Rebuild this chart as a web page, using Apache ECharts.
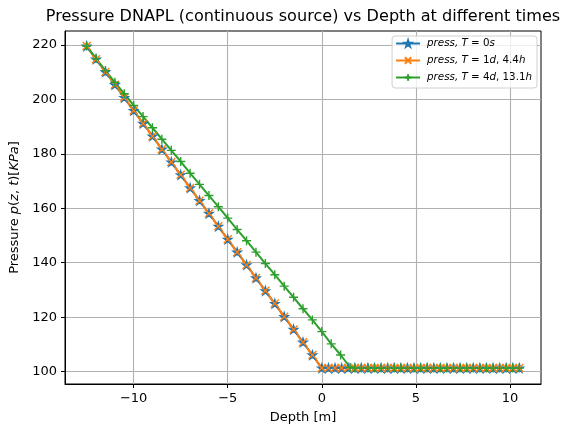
<!DOCTYPE html>
<html><head><meta charset="utf-8">
<script src="https://cdn.jsdelivr.net/npm/echarts@6/dist/echarts.min.js"></script>
<style>html,body{margin:0;padding:0;background:#fff}#c{width:562px;height:427px}</style>
</head><body><div id="c"></div>
<script>
// ---- data ----
const depth0 = [-12.5,-12,-11.5,-11,-10.5,-10,-9.5,-9,-8.5,-8,-7.5,-7,-6.5,-6,-5.5,-5,-4.5,-4,-3.5,-3,-2.5,-2,-1.5,-1,-0.5,0,
  0.35,0.7,1.05,1.4,1.75,2.1,2.45,2.8,3.15,3.5,3.85,4.2,4.55,4.9,5.25,5.6,5.95,6.3,6.65,7.0,7.35,7.7,8.05,8.4,8.75,9.1,9.45,9.8,10.15,10.5];
const pressT0 = [219.6,214.8,210.1,205.4,200.7,195.9,191.2,186.5,181.7,177.0,172.3,167.5,162.8,158.1,153.4,148.6,143.9,139.2,134.4,129.7,125.0,120.2,115.5,110.8,106.1,101.3,
  101.3,101.3,101.3,101.3,101.3,101.3,101.3,101.3,101.3,101.3,101.3,101.3,101.3,101.3,101.3,101.3,101.3,101.3,101.3,101.3,101.3,101.3,101.3,101.3,101.3,101.3,101.3,101.3,101.3,101.3];
const pressT1 = [219.6,214.8,210.1,205.4,200.7,195.9,191.2,186.5,181.7,177.0,172.3,167.5,162.8,158.1,153.4,148.6,143.9,139.2,134.4,129.7,125.0,120.2,115.5,110.8,106.1,101.3,
  101.3,101.3,101.3,101.3,101.3,101.3,101.3,101.3,101.3,101.3,101.3,101.3,101.3,101.3,101.3,101.3,101.3,101.3,101.3,101.3,101.3,101.3,101.3,101.3,101.3,101.3,101.3,101.3,101.3,101.3];
const depth4 = [-12.5,-12,-11.5,-11,-10.5,-10,-9.5,-9,-8.5,-8,-7.5,-7,-6.5,-6,-5.5,-5,-4.5,-4,-3.5,-3,-2.5,-2,-1.5,-1,-0.5,0,0.5,1,1.5,
  1.75,2.1,2.45,2.8,3.15,3.5,3.85,4.2,4.55,4.9,5.25,5.6,5.95,6.3,6.65,7.0,7.35,7.7,8.05,8.4,8.75,9.1,9.45,9.8,10.15,10.5];
const pressT4 = [219.6,215.0,210.6,206.3,202.1,197.8,193.7,189.6,185.4,181.3,177.2,172.9,168.8,164.7,160.6,156.4,152.2,148.1,143.9,139.7,135.6,131.4,127.3,123.1,119.0,114.7,110.2,106.1,101.6,
  101.3,101.3,101.3,101.3,101.3,101.3,101.3,101.3,101.3,101.3,101.3,101.3,101.3,101.3,101.3,101.3,101.3,101.3,101.3,101.3,101.3,101.3,101.3,101.3,101.3,101.3];
const xTicks = [-10,-5,0,5,10];
const yTicks = [100,120,140,160,180,200,220];
const seriesNames = ['T0','T1','T4'];

const zip = (xs, ys) => xs.map((x, i) => [x, ys[i]]);
const FONT = 'DejaVu Sans';
const FS = 13;
const starPath = 'path://M50,0L61.8,35.4L99,35.4L69,57.3L80.4,92.7L50,70.8L19.6,92.7L31,57.3L1,35.4L38.2,35.4Z';
const xPath = 'path://M0,0L10,10M10,0L0,10';
const plusPath = 'path://M5,0L5,10M0,5L10,5';
const minus = v => String(v).replace('-', '\u2212');

const legendText = {
  T0: '{i|press,} {i|T} {n|=} {n|0}{i|s}',
  T1: '{i|press,} {i|T} {n|=} {n|1}{i|d}{n|,} {n|4.4}{i|h}',
  T4: '{i|press,} {i|T} {n|=} {n|4}{i|d}{n|,} {n|13.1}{i|h}'
};

function mkSeries(name, data, color, symbol, size) {
  return {
    name, type: 'line', data, symbol, symbolSize: size,
    showSymbol: true, showAllSymbol: true,
    lineStyle: { color, width: 2 },
    itemStyle: { color, borderColor: color, borderWidth: 1.4 },
    emphasis: { disabled: true }
  };
}

const chart = echarts.init(document.getElementById('c'), null, { renderer: 'canvas' });
chart.setOption({
  animation: false,
  backgroundColor: '#fff',
  textStyle: { fontFamily: FONT },
  grid: { left: 65, right: 21, top: 31, bottom: 43, outerBoundsMode: 'none', containLabel: false,
    show: true, borderColor: '#000', borderWidth: 1, backgroundColor: 'transparent' },
  graphic: [{
    type: 'text', x: 303, y: 17,
    style: { text: 'Pressure DNAPL (continuous source) vs Depth at different times', font: '16.1px "DejaVu Sans"', fill: '#000', textAlign: 'center', textVerticalAlign: 'middle' }
  }],
  legend: {
    orient: 'vertical', right: 25, top: 36,
    data: seriesNames,
    selectedMode: false,
    itemWidth: 24, itemHeight: 8, itemGap: 2,
    padding: [0, 5, 3, 3],
    borderColor: '#d0d0d0', borderWidth: 1, borderRadius: 3,
    backgroundColor: 'rgba(255,255,255,0.8)',
    formatter: n => legendText[n],
    textStyle: {
      fontFamily: FONT, fontSize: 10.3, color: '#000', lineHeight: 15, padding: [0, 0, 0, 2],
      rich: {
        i: { fontFamily: FONT, fontStyle: 'italic', fontSize: 10.3, color: '#000', lineHeight: 15 },
        n: { fontFamily: FONT, fontSize: 10.3, color: '#000', lineHeight: 15 }
      }
    }
  },
  xAxis: {
    type: 'value', min: -13.65, max: 11.65,
    name: 'Depth [m]', nameLocation: 'middle', nameGap: 27,
    nameTextStyle: { fontFamily: FONT, fontSize: FS, color: '#000' },
    axisLine: { show: true, onZero: false, lineStyle: { color: '#000', width: 1 } },
    axisTick: { show: true, inside: false, length: 4, lineStyle: { color: '#000', width: 1 }, customValues: xTicks },
    axisLabel: { show: true, margin: 8, fontFamily: FONT, fontSize: FS, color: '#000', customValues: xTicks, formatter: minus },
    splitLine: { show: true, lineStyle: { color: '#b0b0b0', width: 1.1 } }
  },
  yAxis: {
    type: 'value', min: 95.45, max: 225.15,
    name: 'Pressure {i|p}{n|(}{i|z}{n|,} {i|t}{n|)[}{i|KPa}{n|]}', nameLocation: 'middle', nameGap: 42, nameRotate: 90,
    nameTextStyle: { fontFamily: FONT, fontSize: FS, color: '#000',
      rich: { i: { fontFamily: FONT, fontStyle: 'italic', fontSize: FS, color: '#000' }, n: { fontFamily: FONT, fontSize: FS, color: '#000' } } },
    axisLine: { show: true, onZero: false, lineStyle: { color: '#000', width: 1 } },
    axisTick: { show: true, inside: false, length: 4, lineStyle: { color: '#000', width: 1 }, customValues: yTicks },
    axisLabel: { show: true, margin: 8, fontFamily: FONT, fontSize: FS, color: '#000', customValues: yTicks },
    splitLine: { show: true, lineStyle: { color: '#b0b0b0', width: 1.1 } }
  },
  series: [
    mkSeries('T0', zip(depth0, pressT0), '#1f77b4', starPath, 8),
    mkSeries('T1', zip(depth0, pressT1), '#ff7f0e', xPath, 8),
    mkSeries('T4', zip(depth4, pressT4), '#2ca02c', plusPath, 9)
  ]
});
</script>
</body></html>
